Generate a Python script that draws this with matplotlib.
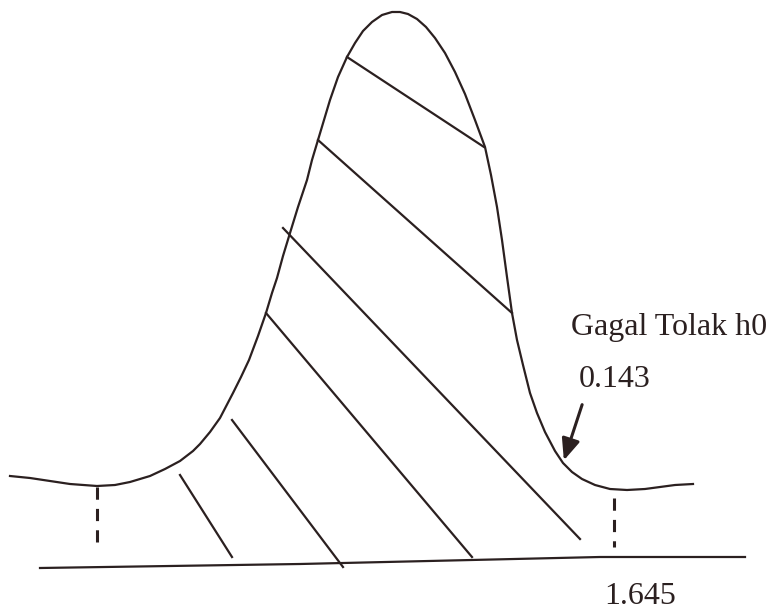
import matplotlib.pyplot as plt

# curve outline (pixel coords, y down)
curve_x = [10, 30, 50, 70, 97, 115, 130, 150, 165, 180, 193, 200, 210, 220, 233, 241, 249,
           258, 266, 272, 277, 283, 290, 298, 307, 312, 318, 324, 330, 338, 347, 355, 363,
           372, 382, 392, 400, 408, 417, 426, 435, 445, 455, 465, 475, 485, 491, 497, 502,
           507, 512, 517, 523, 530, 537, 545, 555, 563, 572, 582, 595, 610, 627, 645, 660,
           675, 693]
curve_y = [476, 478, 481, 484, 486, 485, 482, 476, 469, 461, 451, 444, 432, 418, 393, 377, 360,
           336, 313, 293, 278, 256, 233, 207, 180, 160, 140, 120, 100, 77, 57, 43, 31,
           22, 15, 12, 12, 14, 19, 27, 38, 53, 72, 94, 120, 147, 175, 207, 240,
           277, 313, 340, 365, 393, 413, 432, 451, 463, 472, 479, 485, 489, 490, 489, 487,
           485, 484]

# hatch strokes: (x0, y0, x1, y1)
hatch = [(347, 57, 484, 147),
         (318, 140, 512, 313),
         (283, 228, 580, 539),
         (266, 313, 472, 557),
         (232, 420, 343, 567),
         (180, 475, 232, 557)]

base_x = [40, 300, 600, 745]
base_y = [568, 564, 557, 557]

dashes = [(97, 487, 548), (614, 498, 547)]

ink = '#2b2020'

fig = plt.figure(figsize=(7.72, 6.12), dpi=100)
ax = fig.add_axes([0, 0, 1, 1])
ax.set_xlim(0, 772)
ax.set_ylim(612, 0)
ax.axis('off')

ax.plot(curve_x, curve_y, color=ink, lw=1.6, solid_joinstyle='round')
for x0, y0, x1, y1 in hatch:
    ax.plot([x0, x1], [y0, y1], color=ink, lw=1.6)
ax.plot(base_x, base_y, color=ink, lw=1.6)
for x, y0, y1 in dashes:
    ax.plot([x, x], [y0, y1], color=ink, lw=2.2, linestyle=(0, (4, 3)))

# arrow to the curve
ax.annotate('', xy=(563, 463), xytext=(583, 402),
            arrowprops=dict(arrowstyle='-|>,head_length=1.3,head_width=0.55',
                            color=ink, lw=2.2))

font = dict(family='Liberation Serif', fontsize=23, color=ink)
ax.text(571, 335, 'Gagal Tolak h0', va='baseline', **font)
ax.text(579, 387, '0.143', va='baseline', **font)
ax.text(604, 604, '1.645', va='baseline', **font)

fig.savefig('out.png', dpi=100)
